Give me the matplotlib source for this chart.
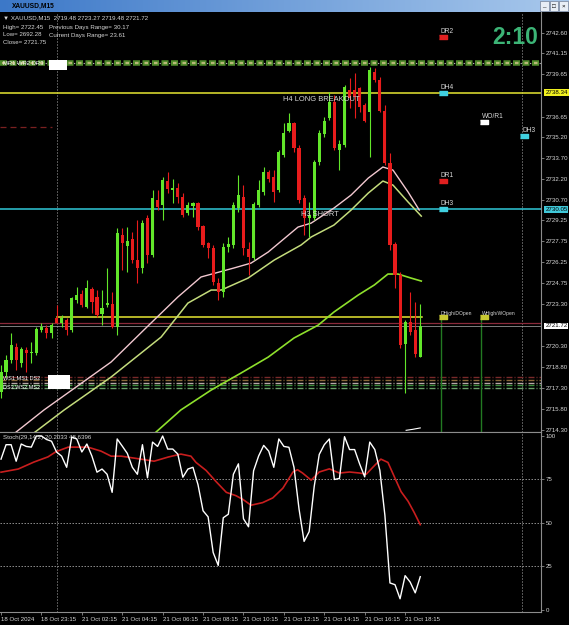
import matplotlib
matplotlib.use("Agg")
import matplotlib.pyplot as plt
import matplotlib.transforms as mtrans
from matplotlib.colors import LinearSegmentedColormap
import numpy as np

# ---------------- data ----------------
opens = [2717.01, 2718.46, 2719.29, 2720.24, 2719.05, 2720.00, 2719.77, 2719.77, 2721.43, 2721.55,
         2721.19, 2722.26, 2721.90, 2722.14, 2721.43, 2723.57, 2723.99, 2723.09, 2724.33, 2723.80,
         2722.57, 2723.21, 2723.28, 2721.66, 2728.20, 2727.42, 2727.89, 2726.42, 2725.83, 2729.39,
         2726.77, 2730.69, 2730.34, 2732.05, 2731.41, 2731.57, 2730.93, 2729.75, 2730.27, 2730.46,
         2728.84, 2727.61, 2727.29, 2724.76, 2724.16, 2727.37, 2727.49, 2730.10, 2730.93, 2727.20,
         2726.54, 2730.34, 2731.29, 2732.67, 2732.36, 2731.41, 2733.90, 2735.61, 2736.16, 2734.42,
         2730.82, 2729.39, 2729.43, 2733.38, 2735.38, 2736.56, 2737.70, 2734.26, 2734.61, 2738.54,
         2738.54, 2738.66, 2737.47, 2736.99, 2739.84, 2739.25, 2737.04, 2733.31, 2727.54, 2725.35,
         2720.41, 2722.02, 2721.43, 2719.48]
highs = [2718.93, 2719.65, 2721.24, 2720.48, 2720.24, 2720.24, 2720.59, 2721.66, 2721.95, 2721.78,
         2721.90, 2723.21, 2722.50, 2722.26, 2723.80, 2724.51, 2724.28, 2725.00, 2724.51, 2724.28,
         2724.28, 2725.83, 2724.16, 2728.68, 2728.68, 2728.79, 2728.43, 2729.27, 2729.27, 2729.62,
         2731.41, 2731.41, 2732.35, 2732.71, 2732.17, 2731.88, 2731.17, 2730.57, 2730.57, 2730.57,
         2728.91, 2727.72, 2727.49, 2725.11, 2727.61, 2728.08, 2730.57, 2732.48, 2731.76, 2727.72,
         2730.57, 2732.12, 2733.07, 2732.83, 2732.83, 2734.26, 2736.16, 2736.87, 2736.27, 2734.61,
         2731.05, 2730.57, 2733.55, 2735.69, 2736.63, 2738.41, 2738.18, 2734.97, 2738.89, 2739.37,
         2739.73, 2738.77, 2737.59, 2740.20, 2740.08, 2739.48, 2737.47, 2734.02, 2727.72, 2725.58,
         2722.14, 2724.16, 2723.45, 2723.27]
lows = [2716.58, 2718.10, 2719.05, 2718.58, 2718.81, 2718.46, 2719.05, 2719.65, 2721.31, 2720.84,
        2720.84, 2721.90, 2721.66, 2721.07, 2721.31, 2723.33, 2723.09, 2722.97, 2722.62, 2722.38,
        2721.78, 2723.09, 2721.55, 2721.07, 2725.70, 2725.58, 2726.18, 2724.76, 2725.47, 2726.18,
        2726.65, 2729.98, 2729.27, 2731.17, 2730.46, 2730.46, 2729.50, 2729.62, 2729.50, 2728.55,
        2727.37, 2726.56, 2724.64, 2723.57, 2723.80, 2727.01, 2727.25, 2729.86, 2726.77, 2725.35,
        2726.42, 2730.22, 2731.05, 2732.00, 2730.57, 2731.29, 2733.78, 2735.56, 2734.14, 2730.46,
        2728.20, 2728.08, 2729.27, 2733.19, 2735.21, 2736.40, 2734.26, 2732.83, 2734.49, 2737.23,
        2736.52, 2736.99, 2736.27, 2733.78, 2739.13, 2736.99, 2733.19, 2727.13, 2724.40, 2720.12,
        2716.94, 2721.07, 2719.53, 2719.48]
closes = [2718.43, 2719.29, 2720.36, 2719.29, 2720.07, 2719.77, 2719.88, 2721.50, 2721.66, 2721.19,
          2721.78, 2721.95, 2722.26, 2721.43, 2723.69, 2723.92, 2723.21, 2724.44, 2723.45, 2722.50,
          2722.97, 2723.33, 2721.66, 2728.32, 2727.61, 2727.79, 2726.42, 2725.83, 2729.08, 2726.77,
          2730.82, 2730.22, 2732.12, 2731.48, 2731.57, 2730.93, 2729.62, 2730.34, 2730.46, 2728.79,
          2727.49, 2727.25, 2724.87, 2724.16, 2727.37, 2727.54, 2730.34, 2731.05, 2727.29, 2726.65,
          2730.39, 2731.41, 2732.71, 2732.19, 2731.29, 2734.09, 2735.45, 2736.16, 2734.42, 2730.69,
          2729.39, 2729.62, 2733.38, 2735.45, 2736.33, 2737.70, 2734.38, 2734.67, 2738.73, 2737.94,
          2738.06, 2737.34, 2736.33, 2739.96, 2739.25, 2737.04, 2733.31, 2727.49, 2725.35, 2720.36,
          2722.02, 2721.31, 2719.70, 2721.72]

# moving averages (bar position, price)
ma_fast_x = [3.0, 8.5, 21.8, 29.7, 35.0, 39.6, 46.1, 49.5, 52.9, 58.8, 61.4, 65.9, 69.3, 72.7, 75.6, 77.6, 80.6, 82.8]
ma_fast_y = [2714.16, 2715.73, 2719.15, 2721.93, 2723.78, 2725.21, 2725.85, 2726.20, 2726.99, 2728.77,
             2729.05, 2730.12, 2731.05, 2732.26, 2733.05, 2732.83, 2731.26, 2729.98]
ma_mid_x = [6.5, 12.5, 21.8, 31.7, 37.0, 41.6, 43.6, 48.9, 54.1, 59.4, 61.4, 65.9, 69.3, 72.7, 75.6, 77.6, 80.6, 83.2]
ma_mid_y = [2714.09, 2715.73, 2718.08, 2720.93, 2723.35, 2724.28, 2724.28, 2725.13, 2726.42, 2727.49,
            2728.06, 2728.91, 2729.98, 2731.19, 2732.05, 2731.76, 2730.55, 2729.55]
ma_slow_x = [30.7, 35.6, 41.6, 47.5, 52.9, 58.0, 62.8, 65.9, 70.7, 73.9, 76.6, 78.6, 81.2, 83.2]
ma_slow_y = [2714.16, 2715.73, 2717.15, 2718.36, 2719.50, 2720.86, 2721.78, 2722.71, 2723.92, 2724.64,
             2725.42, 2725.42, 2725.13, 2724.92]

stoch_main = [86.7, 95, 95, 85.5, 95.4, 94, 93.6, 100, 100, 98,
              97, 90.8, 88.4, 82, 99.4, 98.3, 90.8, 95.4, 88.4, 79.2,
              81, 78, 67.6, 98.3, 94.2, 90, 82, 78, 95, 76,
              96.5, 94, 100, 92.5, 92.5, 89.6, 76.3, 81, 82, 72,
              57, 53.5, 33, 25.6, 53, 55, 78, 84, 52.4, 47.8,
              80, 88.5, 94.6, 91.3, 82, 98.3, 94, 93.5, 82, 58,
              39.4, 45, 70.9, 89.4, 95, 98.3, 75, 75.6, 99.6, 92.2,
              92.2, 83.9, 76.5, 96.5, 92.2, 80.2, 54.3, 15.5, 14.5, 6.4,
              19.7, 16, 9.8, 19.1]
stoch_sig_x = [0, 3.4, 6.5, 9.3, 10.9, 13.3, 17.2, 19.8, 21.8, 23.8, 27.7, 30.3, 33.1, 35.6, 37.6, 38.6,
               40.6, 42.6, 44.6, 46.5, 47.9, 49.5, 51.8, 53.8, 55.8, 57.8, 58.7, 59.7, 61.4, 63, 65,
               67, 69, 71, 72.3, 73.6, 75.2, 76.6, 77.8, 79.2, 80.6, 81.8, 83]
stoch_sig_y = [79.2, 81, 85, 88, 91, 93.6, 93.6, 91.3, 88.4, 88.4, 86.7, 85.5, 87.9, 89.6, 88.4, 84.8,
               80.2, 73.7, 67.6, 65.7, 63.5, 60.2, 61.7, 64.4, 70, 79.3, 80.6, 78.7, 74.6, 79.3, 81.1,
               78.7, 79.3, 78.7, 78, 82, 86.7, 84.8, 77, 68, 62.4, 56, 49]

price_ticks = [2742.60, 2741.15, 2739.65, 2736.65, 2735.20, 2733.70, 2732.20, 2730.70, 2729.25,
               2727.75, 2726.25, 2724.75, 2723.30, 2720.30, 2718.80, 2717.30, 2715.80, 2714.30]
stoch_ticks = [100, 75, 50, 25, 0]
time_pos = [0, 8, 16, 24, 32, 40, 48, 56, 64, 72, 80]
time_labels = ["18 Oct 2024", "18 Oct 23:15", "21 Oct 02:15", "21 Oct 04:15", "21 Oct 06:15",
               "21 Oct 08:15", "21 Oct 10:15", "21 Oct 12:15", "21 Oct 14:15", "21 Oct 16:15",
               "21 Oct 18:15"]

h4_long = 2738.34
h3_short = 2730.05
last_price = 2721.72
d_open = 2722.35
top_band = 2740.46
low_band = [2718.08, 2717.86, 2717.65, 2717.51, 2717.29]
low_band_colors = ['#7a2a2a', '#8a6a3a', '#b8a8a8', '#3a8a3a', '#6aa06a']

# ---------------- figure ----------------
W, H = 569, 625
plt.rcParams['font.family'] = ['Liberation Sans', 'DejaVu Sans']
plt.rcParams['lines.scale_dashes'] = False
fig = plt.figure(figsize=(W / 100, H / 100), dpi=100, facecolor='black')

def fx(px):
    return px / W

def fy(py):
    return 1 - py / H

PX = 0.72  # one pixel in points
GRAY = '#8c8c8c'
TXT = '#d8d8d8'
FS = 4.4

# title bar
axt = fig.add_axes([0, fy(12), 1, 12 / H])
grad = np.linspace(0, 1, 256).reshape(1, -1)
cm = LinearSegmentedColormap.from_list('tb', ['#3c78c8', '#a8c8ec'])
axt.imshow(grad, aspect='auto', cmap=cm, extent=(0, 1, 0, 1))
axt.set_xlim(0, 1); axt.set_ylim(0, 1); axt.axis('off')
axt.text(fx(12), 0.5, "XAUUSD,M15", color='black', fontsize=4.8, va='center', ha='left', fontweight='bold')
for i, s in enumerate(['_', '□', '×']):
    x0 = fx(540 + i * 9.5)
    axt.add_patch(plt.Rectangle((x0, 0.1), fx(8.5), 0.8, facecolor='#e8eef6', edgecolor='#606a80', lw=0.4))
    axt.text(x0 + fx(4.2), 0.5, s, fontsize=4.5, ha='center', va='center', color='black')

# panels
ax = fig.add_axes([0, fy(432), fx(541), (432 - 12) / H])
ax2 = fig.add_axes([0, fy(612), fx(541), (612 - 432) / H])
for a in (ax, ax2):
    a.set_facecolor('black')
    for sp in ('left', 'top'):
        a.spines[sp].set_visible(False)
    for sp in ('right', 'bottom'):
        a.spines[sp].set_color(GRAY)
        a.spines[sp].set_linewidth(0.8)
    a.yaxis.tick_right()
    a.tick_params(axis='y', colors=GRAY, labelcolor=TXT, labelsize=FS, length=2.5, width=0.6, pad=1)
    a.set_xlim(-0.2, 106.9)
ax2.spines['top'].set_visible(True)
ax2.spines['top'].set_color(GRAY)

ax.set_ylim(2714.16, 2744.10)
ax.set_yticks(price_ticks)
ax.set_yticklabels([f"{v:.2f}" for v in price_ticks])
ax.set_xticks([])

idx = np.arange(len(opens))
o = np.array(opens); c = np.array(closes); hgh = np.array(highs); lw_ = np.array(lows)
up = c >= o
GREEN = '#62e62a'
RED = '#e81c1c'
cols = np.where(up, GREEN, RED)

# horizontal reference lines
ax.axhline(top_band, color='#4e8a2a', lw=4.0, linestyle=(0, (7 * PX, 2.5 * PX)), zorder=2)
ax.axhline(top_band, color='#b8b878', lw=1.6, linestyle=(-2 * PX, (3.5 * PX, 6 * PX)), zorder=2.1)
ax.axhline(top_band, color='#e0e0e0', lw=0.8, linestyle=(-7.2 * PX, (1 * PX, 8.5 * PX)), zorder=2.2)
for lvl, col in zip(low_band, low_band_colors):
    ax.axhline(lvl, color=col, lw=1.0, linestyle=(0, (6 * PX, 2 * PX, 1 * PX, 2 * PX)), zorder=2)
ax.plot([-0.2, 10], [2735.90, 2735.90], color='#7a2020', lw=0.9, linestyle=(0, (6 * PX, 4 * PX)), zorder=2)
ax.axhline(h4_long, color='#e6e632', lw=1.1, zorder=3)
ax.axhline(h3_short, color='#30c8d8', lw=1.1, zorder=3)
ax.plot([11, 83.3], [d_open, d_open], color='#e6e632', lw=1.1, zorder=3)
ax.axhline(2721.94, color='#8a2a3a', lw=0.9, zorder=3)
ax.axhline(last_price, color='#b0b0b0', lw=0.5, zorder=3)

# green vertical lines
ax.vlines([87.1, 95.0], 2714.16, d_open, color='#227a22', lw=1.0, zorder=2)

# dotted separators
for a in (ax, ax2):
    a.axvline(11, color='#b0b0b0', lw=0.7, linestyle=(0, (1 * PX, 2 * PX)), zorder=1)
    a.axvline(103.2, color='#b0b0b0', lw=0.7, linestyle=(0, (1 * PX, 2 * PX)), zorder=1)

# moving averages
ax.plot(ma_slow_x, ma_slow_y, color='#8ee02c', lw=1.2, zorder=4)
ax.plot(ma_mid_x, ma_mid_y, color='#c4dc7c', lw=1.1, zorder=4)
ax.plot(ma_fast_x, ma_fast_y, color='#f2c8d0', lw=1.0, zorder=4)

# candles
ax.vlines(idx, lw_, hgh, colors=cols, lw=0.8, zorder=5)
body_bot = np.minimum(o, c)
body_h = np.maximum(np.abs(c - o), 0.08)
ax.bar(idx, body_h, bottom=body_bot, width=0.62, color=cols, linewidth=0, zorder=6)

# small white line at bottom
ax.plot([80.2, 81.5, 83.0], [2714.28, 2714.35, 2714.45], color='white', lw=0.8, zorder=5)

# right side price boxes
tr = mtrans.blended_transform_factory(ax.transAxes, ax.transData)
for val, fc in ((h4_long, '#f0f020'), (h3_short, '#40c8d8'), (last_price, 'white')):
    ax.text(1.008, val, f"{val:.2f}", transform=tr, fontsize=FS, color='black', va='center', ha='left',
            bbox=dict(boxstyle='square,pad=0.15', facecolor=fc, edgecolor='none'), clip_on=False)

# object labels and markers
rect = [(-1, -0.55), (1, -0.55), (1, 0.55), (-1, 0.55)]
labels = [("DR2", 87.5, 2742.31, '#e02020'), ("DH4", 87.5, h4_long, '#40d0e0'),
          ("WO/R1", 95.6, 2736.25, 'white'), ("DH3", 103.6, 2735.26, '#40d0e0'),
          ("DR1", 87.5, 2732.05, '#e02020'), ("DH3", 87.5, h3_short, '#40d0e0')]
for name, xx, yy, col in labels:
    ax.plot([xx], [yy], marker=rect, markersize=6, color=col, linestyle='none', zorder=7)
    ax.annotate(name, (xx - 0.45, yy), xytext=(0, 1.3), textcoords='offset points', fontsize=4.8,
                color=TXT, ha='left', va='bottom', zorder=8)
# day / week open-high labels (combined, they overlap in the original)
for name, xx in (("DHigh/DOpen", 87.5), ("WHigh/WOpen", 95.6)):
    ax.plot([xx], [d_open], marker=rect, markersize=6, color='#c8c832', linestyle='none', zorder=7)
    ax.annotate(name, (xx - 0.45, d_open), xytext=(0, 1.0), textcoords='offset points', fontsize=3.6,
                color=TXT, ha='left', va='bottom', zorder=8)

ax.annotate("H4 LONG BREAKOUT", (63.4, h4_long), xytext=(0, -2), textcoords='offset points',
            fontsize=5.4, color=TXT, ha='center', va='top', zorder=8)
ax.annotate("H3 SHORT", (63.2, h3_short), xytext=(0, -1.5), textcoords='offset points',
            fontsize=5.4, color=TXT, ha='center', va='top', zorder=8)

# left clutter labels
ax.text(0.3, top_band, "MR1 WR2 DR3", fontsize=4.2, color='white', va='center', ha='left', zorder=8)
ax.text(0.3, 2717.95, "WS1 MS1 DS2", fontsize=4.0, color='white', va='center', ha='left', zorder=8)
ax.text(0.3, 2717.35, "DS3 WS2 MS2", fontsize=4.0, color='white', va='center', ha='left', zorder=8)
ax.bar(11.3, 0.75, bottom=2739.95, width=3.6, color='white', zorder=8)
ax.bar(11.5, 1.05, bottom=2717.2, width=4.3, color='white', zorder=8)

# countdown clock
fig.text(fx(538), fy(38), "2:10", fontsize=16.5, fontweight='bold', color='#3cb476', ha='right', va='center')

# info text top-left
fig.text(fx(3), fy(18), "▼ XAUUSD,M15  2719.48 2723.27 2719.48 2721.72", fontsize=FS, color=TXT, va='center')
fig.text(fx(3), fy(27), "High= 2722.45", fontsize=FS, color=TXT, va='center')
fig.text(fx(49), fy(27), "Previous Days Range= 30.17", fontsize=FS, color=TXT, va='center')
fig.text(fx(3), fy(35), "Low= 2692.28", fontsize=FS, color=TXT, va='center')
fig.text(fx(49), fy(35), "Current Days Range= 23.61", fontsize=FS, color=TXT, va='center')
fig.text(fx(3), fy(43), "Close= 2721.75", fontsize=FS, color=TXT, va='center')

# ---------------- stochastic panel ----------------
ax2.set_ylim(-1.2, 102.3)
ax2.set_yticks(stoch_ticks)
ax2.set_yticklabels([str(v) for v in stoch_ticks])
for lv in (75, 50, 25):
    ax2.axhline(lv, color='#a0a0a0', lw=0.6, linestyle=(0, (1.5 * PX, 1.5 * PX)), zorder=1)
ax2.plot(stoch_sig_x, stoch_sig_y, color='#c81e1e', lw=1.2, zorder=3)
ax2.plot(idx, stoch_main, color='white', lw=1.0, zorder=4)
ax2.text(0.005, 0.985, "Stoch(29,14,2) 20.2033 48.6396", transform=ax2.transAxes, fontsize=FS,
         color=TXT, va='top', ha='left')
ax2.set_xticks(time_pos)
ax2.set_xticklabels(time_labels)
ax2.tick_params(axis='x', colors=GRAY, labelcolor=TXT, labelsize=FS, length=2.5, width=0.6, pad=1)
for lab in ax2.get_xticklabels():
    lab.set_ha('left')

fig.savefig("out.png", dpi=100, facecolor='black')
